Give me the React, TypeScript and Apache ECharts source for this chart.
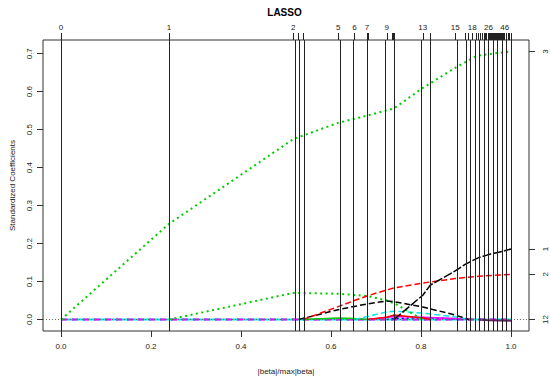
import React, { useEffect, useRef } from "react";
import * as echarts from "echarts";

// Step positions (|beta|/max|beta|) of the LARS/LASSO path
const steps = [
  0, 0.24, 0.516, 0.528, 0.538, 0.616, 0.652, 0.68, 0.683, 0.724,
  0.736, 0.738, 0.74, 0.804, 0.821, 0.876, 0.899, 0.906, 0.914, 0.923,
  0.928, 0.932, 0.937, 0.94, 0.943, 0.946, 0.95, 0.952, 0.954, 0.956,
  0.958, 0.96, 0.962, 0.964, 0.966, 0.968, 0.97, 0.972, 0.974, 0.976,
  0.978, 0.979, 0.98, 0.982, 0.983, 0.985, 0.986, 0.99, 0.994, 0.997, 1.0,
];
const labeledSteps = [0, 1, 2, 5, 6, 7, 9, 13, 15, 18, 26, 46];
const xTicks = [0, 0.2, 0.4, 0.6, 0.8, 1.0];
const yTicks = [0, 0.1, 0.2, 0.3, 0.4, 0.5, 0.6, 0.7];

// Coefficient paths (knots, from the step where each variable enters)
const v3X = [0, 0.24, 0.516, 0.616, 0.68, 0.74, 0.804, 0.876, 0.923, 0.95, 1.0];
const v3Y = [0, 0.252, 0.475, 0.518, 0.537, 0.556, 0.61, 0.663, 0.694, 0.699, 0.706];

const v1X = [0.74, 0.804, 0.821, 0.876, 0.899, 0.928, 0.95, 0.986, 1.0];
const v1Y = [0, 0.064, 0.091, 0.128, 0.146, 0.163, 0.171, 0.181, 0.1856];

const v2X = [0.538, 0.616, 0.652, 0.68, 0.724, 0.74, 0.804, 0.821, 0.876, 0.928, 1.0];
const v2Y = [0, 0.034, 0.05, 0.062, 0.078, 0.083, 0.096, 0.099, 0.108, 0.114, 0.119];

const v7X = [0.528, 0.616, 0.68, 0.724, 0.74, 0.804, 0.876, 0.906];
const v7Y = [0, 0.026, 0.041, 0.049, 0.047, 0.033, 0.012, 0];

const v9X = [0.24, 0.516, 0.616, 0.68, 0.724, 0.74, 0.804];
const v9Y = [0, 0.07, 0.068, 0.062, 0.05, 0.043, 0];

const v5X = [0.652, 0.724, 0.74, 0.804, 0.876, 0.906];
const v5Y = [0, 0.02, 0.022, 0.017, 0.007, 0];

const v6X = [0.683, 0.74, 0.804, 0.876, 0.914];
const v6Y = [0, 0.008, 0.006, 0.003, 0];

const v8X = [0.68, 0.724, 0.74, 0.804, 0.821];
const v8Y = [0, 0.006, 0.012, 0.004, 0];

const v4X = [0.724, 0.74, 0.804, 0.876, 0.899];
const v4Y = [0, 0.003, 0.005, 0.002, 0];

const v15X = [0.538, 0.616, 0.652, 0.68];
const v15Y = [0, 0.004, 0.003, 0];

const v12X = [0.928, 0.95, 1.0];
const v12Y = [0, -0.002, -0.003];

const zeroX = [0, 1.0];
const zeroY = [0, 0];

const rightLabels = ["3", "1", "2", "12"];

const FONT = "Liberation Sans, Arial, sans-serif";

function zip(xs: number[], ys: number[]) {
  return xs.map((x, i) => [x, ys[i]]);
}

function lineSeries(
  xs: number[],
  ys: number[],
  color: string,
  type: any,
  width: number,
  z: number
) {
  return {
    type: "line",
    data: zip(xs, ys),
    showSymbol: false,
    symbol: "none",
    silent: true,
    z,
    lineStyle: { color, type, width, cap: "butt" },
    emphasis: { disabled: true },
  };
}

export default function App() {
  const ref = useRef<HTMLDivElement>(null);

  useEffect(() => {
    if (!ref.current) return;
    const chart = echarts.init(ref.current, undefined, { renderer: "svg" });

    const rightVals = [
      v3Y[v3Y.length - 1],
      v1Y[v1Y.length - 1],
      v2Y[v2Y.length - 1],
      zeroY[zeroY.length - 1],
    ];
    const labeledVals = labeledSteps.map((i) => steps[i]);

    const option: any = {
      animation: false,
      backgroundColor: "#fff",
      grid: {
        left: 40,
        top: 40,
        right: 21,
        bottom: 51,
        show: true,
        borderColor: "#333",
        borderWidth: 1,
        backgroundColor: "transparent",
      },
      graphic: [
        {
          type: "text",
          x: 284.5,
          y: 12,
          style: {
            text: "LASSO",
            fontFamily: FONT,
            fontSize: 10,
            fontWeight: "bold",
            fill: "#000",
            textAlign: "center",
            textVerticalAlign: "middle",
          },
        },
      ],
      xAxis: [
        {
          type: "value",
          position: "bottom",
          min: -0.04,
          max: 1.04,
          axisLine: { show: false, onZero: false },
          splitLine: { show: false },
          axisTick: {
            show: true,
            customValues: xTicks,
            length: 6,
            lineStyle: { color: "#333" },
          },
          axisLabel: {
            customValues: xTicks,
            formatter: (v: number) => v.toFixed(1),
            fontSize: 8,
            fontFamily: FONT,
            color: "#222",
            margin: 11,
          },
          name: "|beta|/max|beta|",
          nameLocation: "middle",
          nameGap: 36,
          nameTextStyle: { fontSize: 8, fontFamily: FONT, color: "#222" },
        },
        {
          type: "value",
          position: "top",
          min: -0.04,
          max: 1.04,
          axisLine: { show: false, onZero: false },
          splitLine: { show: false },
          axisTick: {
            show: true,
            customValues: steps,
            length: 7,
            lineStyle: { color: "#222" },
          },
          axisLabel: {
            customValues: labeledVals,
            formatter: (v: number) =>
              String(steps.findIndex((s) => Math.abs(s - v) < 1e-9)),
            fontSize: 8,
            fontFamily: FONT,
            color: "#222",
            margin: 9,
          },
        },
      ],
      yAxis: [
        {
          type: "value",
          position: "left",
          min: -0.0302,
          max: 0.7362,
          axisLine: { show: false, onZero: false },
          splitLine: { show: false },
          axisTick: {
            show: true,
            customValues: yTicks,
            length: 6,
            lineStyle: { color: "#333" },
          },
          axisLabel: {
            customValues: yTicks,
            formatter: (v: number) => v.toFixed(1),
            rotate: 90,
            fontSize: 8,
            fontFamily: FONT,
            color: "#222",
            margin: 10,
          },
          name: "Standardized Coefficients",
          nameLocation: "middle",
          nameGap: 27,
          nameTextStyle: { fontSize: 8, fontFamily: FONT, color: "#222" },
        },
        {
          type: "value",
          position: "right",
          min: -0.0302,
          max: 0.7362,
          axisLine: { show: false, onZero: false },
          splitLine: { show: false },
          axisTick: {
            show: true,
            customValues: rightVals,
            length: 6,
            lineStyle: { color: "#333" },
          },
          axisLabel: {
            customValues: rightVals,
            formatter: (v: number) => {
              const i = rightVals.findIndex((r) => Math.abs(r - v) < 1e-9);
              return i >= 0 ? rightLabels[i] : "";
            },
            rotate: 90,
            fontSize: 8,
            fontFamily: FONT,
            color: "#222",
            margin: 12,
          },
        },
      ],
      series: [
        // zero reference line
        {
          type: "line",
          data: [[0, 0]],
          showSymbol: false,
          symbol: "none",
          silent: true,
          lineStyle: { opacity: 0 },
          z: 1,
          markLine: {
            silent: true,
            symbol: ["none", "none"],
            label: { show: false },
            emphasis: { disabled: true },
            lineStyle: { color: "#666", width: 1, type: [1, 2] },
            data: [{ yAxis: 0 }],
          },
        },
        // zero band of inactive variables
        lineSeries(zeroX, zeroY, "#00E5E5", "solid", 2, 2),
        lineSeries(zeroX, zeroY, "#FF00FF", [6, 5], 2, 3),
        lineSeries(zeroX, zeroY, "#8A5FE0", [2, 9], 2, 3),
        lineSeries(v12X, v12Y, "#662266", "solid", 2, 3),
        // small coefficients
        lineSeries(v15X, v15Y, "#00CD00", "solid", 1.5, 4),
        lineSeries(v4X, v4Y, "#0000FF", [2, 3], 1.5, 4),
        lineSeries(v6X, v6Y, "#FF00FF", "solid", 1.5, 4),
        lineSeries(v8X, v8Y, "#FF0000", "solid", 1.5, 4),
        lineSeries(v5X, v5Y, "#00E5E5", [6, 3], 1.5, 4),
        lineSeries(v9X, v9Y, "#00CD00", [2, 3.5], 2, 4),
        lineSeries(v7X, v7Y, "#000000", [6, 3], 1.5, 4),
        // main coefficients
        lineSeries(v2X, v2Y, "#FF0000", [6, 3], 1.5, 4),
        lineSeries(v1X, v1Y, "#000000", [9, 2], 1.5, 4),
        lineSeries(v3X, v3Y, "#00CD00", [2, 3.5], 2, 4),
        // step lines
        {
          type: "line",
          data: [[0, 0]],
          showSymbol: false,
          symbol: "none",
          silent: true,
          lineStyle: { opacity: 0 },
          z: 6,
          markLine: {
            silent: true,
            symbol: ["none", "none"],
            label: { show: false },
            emphasis: { disabled: true },
            lineStyle: { color: "#222", width: 1, type: "solid" },
            data: steps.map((s) => ({ xAxis: s })),
          },
        },
      ],
    };

    chart.setOption(option);
    return () => chart.dispose();
  }, []);

  return (
    <div
      ref={ref}
      style={{ position: "fixed", left: 0, top: 0, width: 550, height: 382 }}
    />
  );
}
